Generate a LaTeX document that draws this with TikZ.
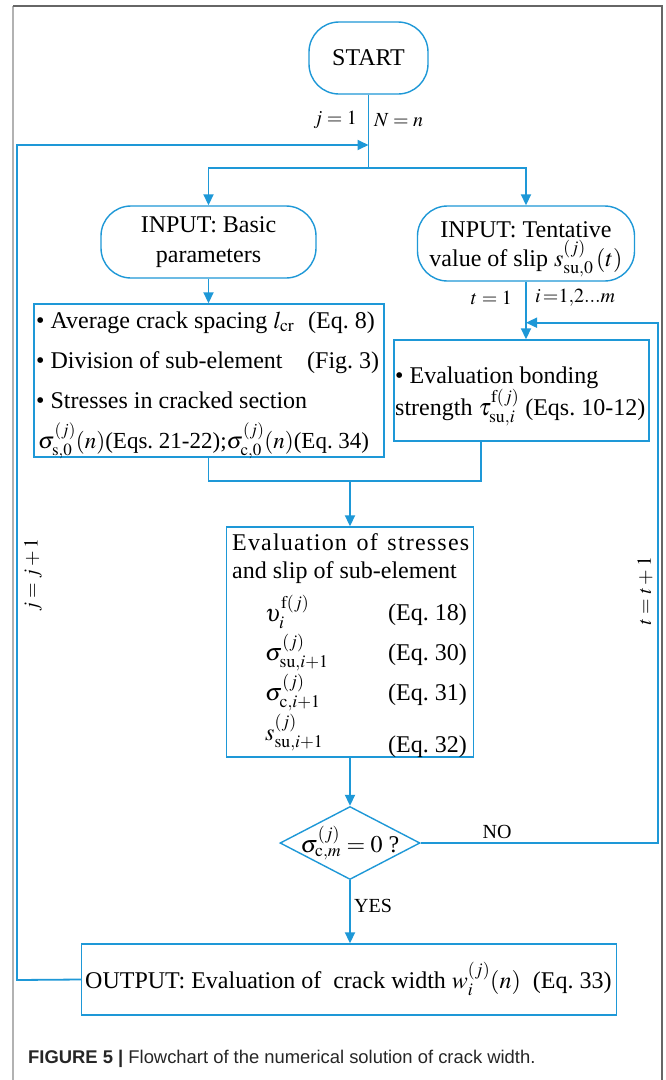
\documentclass[tikz,border=0pt]{standalone}
\usepackage{mathptmx}
\usepackage[no-math]{fontspec}
\setmainfont{Liberation Serif}
\newfontfamily\capfont{Liberation Sans}
\usetikzlibrary{arrows.meta,shapes.geometric}
\definecolor{fblue}{RGB}{30,152,215}
\newcommand\mainsz{\fontsize{24}{30}\selectfont}
\newcommand\labsz{\fontsize{20}{24}\selectfont}
\begin{document}
\frenchspacing
\begin{tikzpicture}[x=1pt,y=-1pt,
  line/.style={fblue,line width=1.8pt},
  arr/.style={line,-{Triangle[length=11pt,width=10pt]}},
  box/.style={draw=fblue,line width=1.4pt,rectangle,inner sep=0pt,font=\mainsz},
  stad/.style={box,rounded corners=30pt},
  txt/.style={font=\mainsz,inner sep=0pt,anchor=base west},
  txte/.style={font=\mainsz,inner sep=0pt,anchor=base east},
  lab/.style={font=\labsz,inner sep=0pt}]
\useasboundingbox (0,0) rectangle (665,1080);
\fill[white] (0,0) rectangle (665,1080);
\draw[black!30, line width=1.8pt] (13,6) -- (13,1080);
\draw[black!60, line width=1.5pt] (13,6) -- (662,6) -- (662,1080);

% boxes
\node[stad,minimum width=119pt,minimum height=72pt] (start) at (368.5,58) {START};
\node[stad,minimum width=215pt,minimum height=72pt,align=center] (inb) at (208.5,242) {INPUT: Basic\\parameters};
\node[stad,minimum width=217pt,minimum height=75pt] (int) at (526,243.5) {};
\node[txt,anchor=base] (it1) at (526,237) {INPUT: Tentative};
\node[txt,anchor=base] (it2) at (526,266) {value of slip $s^{(j)}_{\mathrm{su},0}\left(t\right)$};
\node[box,minimum width=350pt,minimum height=153pt] (lbox) at (209,380.5) {};
\node[box,minimum width=255pt,minimum height=101pt] (rbox) at (521.5,390.5) {};
\node[box,minimum width=247pt,minimum height=230pt] (ebox) at (350,642) {};
\node[diamond,draw=fblue,line width=1.4pt,minimum width=140pt,minimum height=73pt,inner sep=0pt,
  label={[font=\mainsz]center:$\sigma^{(j)}_{\mathrm{c},m}=0$\ ?}] (dec) at (350,843) {};
\node[box,minimum width=535pt,minimum height=71pt] (obox) at (349,979.5) {};

% left box text
\node[txt] (l1) at (36,328) {\textbullet\ Average crack spacing $l_{\mathrm{cr}}$};
\node[txt] (l1e) at (308,328) {(Eq. 8)};
\node[txt] (l2) at (36,368) {\textbullet\ Division of sub-element};
\node[txt] (l2e) at (307,368) {(Fig. 3)};
\node[txt] (l3) at (36,408) {\textbullet\ Stresses in cracked section};
\node[txt,font=\fontsize{23}{28}\selectfont] (l4) at (38,448) {$\sigma^{(j)}_{\mathrm{s},0}\!\left(n\right)$(Eqs. 21-22);$\sigma^{(j)}_{\mathrm{c},0}\!\left(n\right)$(Eq. 34)};

% right box text
\node[txt] (r1) at (395,383) {\textbullet\ Evaluation bonding};
\node[txt] (r2) at (395,415) {strength $\tau^{\mathrm{f}(j)}_{\mathrm{su},i}$ (Eqs. 10-12)};

% evaluation box text
\node[txt] (e1) at (232,550) {\makebox[237pt][s]{\addfontfeature{LetterSpace=5}Evaluation of stresses}};
\node[txt] (e2) at (232,578) {and slip of sub-element};
\node[txt] (f1) at (265,621) {$\upsilon_i^{\mathrm{f}(j)}$};
\node[txte] (q1) at (467,620) {(Eq. 18)};
\node[txt] (f2) at (265,660) {$\sigma^{(j)}_{\mathrm{su},i+1}$};
\node[txte] (q2) at (467,660) {(Eq. 30)};
\node[txt] (f3) at (265,700) {$\sigma^{(j)}_{\mathrm{c},i+1}$};
\node[txte] (q3) at (467,700) {(Eq. 31)};
\node[txt] (f4) at (265,740) {$s^{(j)}_{\mathrm{su},i+1}$};
\node[txte] (q4) at (467,752) {(Eq. 32)};

% output text
\node[txt] (o1) at (85,988) {OUTPUT: Evaluation of\ \ crack width $w_i^{(j)}\!\left(n\right)$\ \ (Eq. 33)};

% labels
\node[lab,anchor=east] (lj) at (357,120) {$j=1$};
\node[lab,anchor=west] (lN) at (374,120) {$N=n$};
\node[lab,anchor=east] (lt) at (512,298) {$t=1$};
\node[lab,anchor=west] (li) at (535,298) {$i\,{=}1{,}2...m$};
\node[lab,rotate=90] (ljj) at (33,575) {$j=j+1$};
\node[lab,rotate=90] (ltt) at (645,591) {$t=t+1$};
\node[lab] (lno) at (497,832) {NO};
\node[lab,anchor=west] (lyes) at (354,906) {YES};

% connectors
\coordinate (br) at (368.5,168);
\coordinate (jn) at (368.5,145);
\draw[line] (start.south) -- (br);
\draw[arr] (br) -| (inb.north);
\draw[arr] (br) -| (int.north);
\draw[arr] (inb.south) -- (lbox.north -| inb.south);
\draw[arr] (int.south) -- (int.south |- rbox.north);
\path (int.south) ++(0,41) coordinate (tn);
\coordinate (nr) at (658,843);
\draw[arr] (dec.east) -- (nr) |- (tn);
\coordinate (m) at (350,481);
\coordinate (rb) at (481,441);
\draw[line] (lbox.south -| inb.south) |- (m);
\draw[line] (rb) |- (m);
\draw[arr] (m) -- (ebox.north);
\draw[arr] (ebox.south) -- (dec.north);
\draw[arr] (dec.south) -- (dec.south |- obox.north);
\coordinate (jl) at (17,980);
\draw[arr] (obox.west) -- (jl) |- (jn);

% caption
\node[anchor=west,inner sep=0pt,font=\capfont\fontsize{18.4}{20}\selectfont,text=black!85] (cap) at (28,1059) {\textbf{FIGURE 5 |} Flowchart of the numerical solution of crack width.};
\end{tikzpicture}
\end{document}
